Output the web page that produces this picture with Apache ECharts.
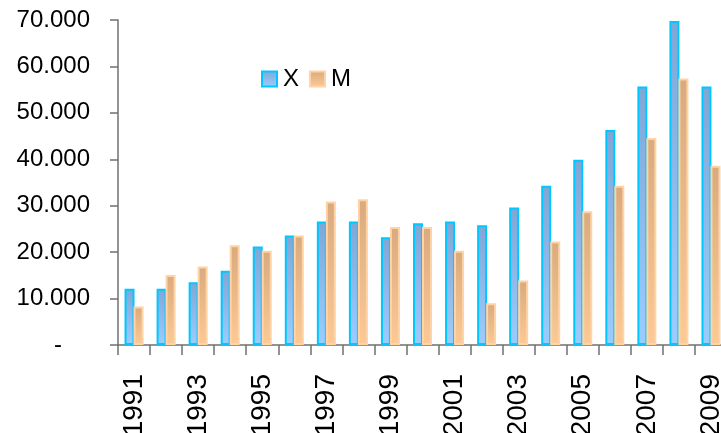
<!DOCTYPE html>
<html>
<head>
<meta charset="utf-8">
<script src="https://cdn.jsdelivr.net/npm/echarts@6/dist/echarts.min.js"></script>
<style>
html,body{margin:0;padding:0;background:#fff;}
#chart{width:721px;height:433px;}
</style>
</head>
<body>
<div id="chart"></div>
<script>
var years = ['1991','1992','1993','1994','1995','1996','1997','1998','1999','2000','2001','2002','2003','2004','2005','2006','2007','2008','2009'];
var seriesX = [12100,12100,13500,16000,21200,23600,26600,26600,23200,26200,26600,25800,29600,34300,39900,46300,55700,69800,55700];
var seriesM = [8300,15100,16900,21500,20300,23600,30900,31400,25400,25400,20300,9000,13900,22300,28800,34300,44600,57400,38600];
var yTicks = [0,10000,20000,30000,40000,50000,60000,70000];

var chart = echarts.init(document.getElementById('chart'), null, {renderer:'canvas'});
var G = echarts.graphic.LinearGradient;
var font = 'Liberation Sans, Arial, sans-serif';
chart.setOption({
  animation:false,
  backgroundColor:'#fff',
  textStyle:{fontFamily:font},
  legend:{
    left:256, top:62, icon:'rect', itemWidth:15, itemHeight:15, itemGap:10,
    textStyle:{fontSize:24, color:'#000', fontFamily:font, padding:[0,0,0,1]},
    data:['X','M']
  },
  grid:{left:118, right:-6, top:20, bottom:88, containLabel:false, outerBoundsMode:'none'},
  xAxis:{
    type:'category', data:years, boundaryGap:true,
    axisLine:{lineStyle:{color:'#707070', width:1.5}},
    axisTick:{show:true, length:10, inside:false, interval:0, lineStyle:{color:'#707070', width:1.5}},
    axisLabel:{interval:1, rotate:90, margin:29, fontSize:28, color:'#000', fontFamily:font}
  },
  yAxis:{
    type:'value', min:yTicks[0], max:yTicks[yTicks.length-1], interval:10000,
    splitLine:{show:false},
    axisLine:{show:true, lineStyle:{color:'#707070', width:1.5}},
    axisTick:{show:true, length:8, lineStyle:{color:'#707070', width:1.5}},
    axisLabel:{
      margin:28, fontSize:24, color:'#000', fontFamily:font,
      formatter:function(v){ return v===0 ? '{z|-}' : (v/1000)+'.000'; },
      rich:{z:{fontSize:24, color:'#000', padding:[0,28,0,0], fontFamily:font}}
    }
  },
  series:[
    {
      name:'X', type:'bar', data:seriesX, barWidth:10, barGap:'-10%',
      itemStyle:{
        color:new G(0,0,0,1,[{offset:0,color:'#7fa7d6'},{offset:1,color:'#9acdff'}]),
        borderColor:'#00c8ff', borderWidth:2
      }
    },
    {
      name:'M', type:'bar', data:seriesM, barWidth:10, barGap:'-10%',
      itemStyle:{
        color:new G(0,0,0,1,[{offset:0,color:'#d8aa7e'},{offset:1,color:'#fdca95'}]),
        borderColor:'#ffd3a6', borderWidth:2
      }
    }
  ]
});
</script>
</body>
</html>
